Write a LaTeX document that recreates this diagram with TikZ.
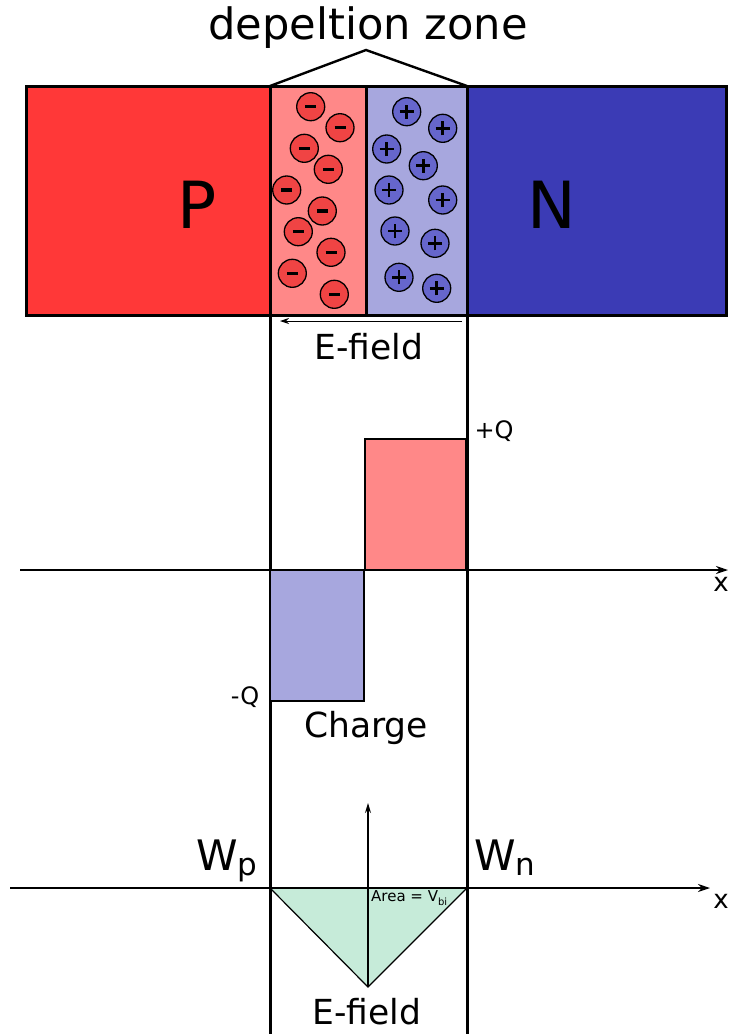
\documentclass[tikz,border=0pt]{standalone}
\usepackage{fontspec}
\setmainfont{DejaVu Sans}
\usetikzlibrary{arrows.meta}
\definecolor{pred}{HTML}{FF3838}
\definecolor{nblue}{HTML}{3B3BB5}
\definecolor{lred}{HTML}{FF8888}
\definecolor{lblue}{HTML}{A7A7DE}
\definecolor{ionred}{HTML}{F04444}
\definecolor{ionblue}{HTML}{6666CC}
\definecolor{mint}{HTML}{C6EBD9}
\tikzset{
  block/.style={draw=black, line width=3pt, anchor=north west, inner sep=0pt, outer sep=0pt},
  mion/.style={circle, draw=black, line width=1.3pt, fill=ionred, minimum size=28pt, inner sep=0pt,
    path picture={\draw[line width=3.2pt] ([xshift=-5.5pt]path picture bounding box.center) -- ([xshift=5.5pt]path picture bounding box.center);}},
  pion/.style={circle, draw=black, line width=1.3pt, fill=ionblue, minimum size=28pt, inner sep=0pt,
    path picture={\draw[line width=2.6pt] ([xshift=-7pt]path picture bounding box.center) -- ([xshift=7pt]path picture bounding box.center);
                  \draw[line width=2.6pt] ([yshift=-7pt]path picture bounding box.center) -- ([yshift=7pt]path picture bounding box.center);}},
  lbl/.style={inner sep=0pt, font=\fontsize{34.5}{40}\selectfont},
  qrect/.style={draw=black, line width=1.4pt, anchor=north west, inner sep=0pt, outer sep=0pt},
  axis/.style={line width=1.2pt, -{Stealth[length=12pt,width=8pt]}},
  vline/.style={line width=3pt},
}
\begin{document}
\begin{tikzpicture}[x=1pt,y=-1pt]
\useasboundingbox (0,0) rectangle (729,1034);
% blocks
\node[block, fill=pred, minimum width=244pt, minimum height=229pt] (P) at (26,86) {};
\node[block, fill=lred, minimum width=96pt, minimum height=229pt] (DL) at (270,86) {};
\node[block, fill=lblue, minimum width=101pt, minimum height=229pt] (DR) at (366,86) {};
\node[block, fill=nblue, minimum width=259pt, minimum height=229pt] (N) at (467,86) {};
\node[inner sep=0pt, font=\fontsize{65}{70}\selectfont] (Pl) at (197,205) {P};
\node[inner sep=0pt, font=\fontsize{65}{70}\selectfont] (Nl) at (552,205) {N};
% bracket and title
\coordinate (apex) at (366,50);
\draw[line width=2.4pt] (DL.north west) -- (apex) -- (DR.north east);
\node[inner sep=0pt, font=\fontsize{43.2}{48}\selectfont] (title) at (368,28) {depeltion zone};
% ions
\foreach \n/\x/\y in {1/310.7/106.7, 2/340/127.7, 3/304.3/148.3, 4/328.3/169.3, 5/286.7/190,
                      6/322.3/211, 7/298.3/231.7, 8/331/252.3, 9/292.3/273.3, 10/334.3/294.3}
  \node[mion] (m\n) at (\x,\y) {};
\foreach \n/\x/\y in {1/406.7/111.7, 2/442.7/128.3, 3/386.7/149, 4/423.3/165.7, 5/389/190,
                      6/442.7/200, 7/395/231, 8/435/243.3, 9/399/277.3, 10/436.7/288.3}
  \node[pion] (p\n) at (\x,\y) {};
% vertical lines
\coordinate (vlb) at (270,1034);
\coordinate (vrb) at (467,1034);
\draw[vline] (DL.south west) -- (vlb);
\draw[vline] (DR.south east) -- (vrb);
% E-field arrow
\coordinate (ef1) at (462,321);
\coordinate (ef2) at (280,321);
\draw[line width=1pt, -{Stealth[length=9pt,width=6pt]}] (ef1) -- (ef2);
\node[lbl] (eftop) at (369,347) {E-field};
% charge plot
\node[qrect, fill=lred, minimum width=101pt, minimum height=131pt] (qp) at (365,439) {};
\node[qrect, fill=lblue, minimum width=94pt, minimum height=131pt] (qn) at (270,570) {};
\coordinate (a1s) at (20,570);
\coordinate (a1e) at (728,570);
\draw[axis] (a1s) -- (a1e);
\node[inner sep=0pt, font=\fontsize{26}{30}\selectfont] (x1) at (721,584) {x};
\node[inner sep=0pt, font=\fontsize{24}{28}\selectfont] (plq) at (494,431) {+Q};
\node[inner sep=0pt, font=\fontsize{24}{28}\selectfont] (miq) at (245,697) {-Q};
\node[lbl] (chg) at (366,728) {Charge};
% E-field plot
\coordinate (t1) at (270,888);
\coordinate (t2) at (467,888);
\coordinate (t3) at (368,987);
\draw[line width=1.2pt, fill=mint] (t1) -- (t2) -- (t3) -- cycle;
\coordinate (a2s) at (10,888);
\coordinate (a2e) at (710,888);
\draw[axis] (a2s) -- (a2e);
\node[inner sep=0pt, font=\fontsize{26}{30}\selectfont] (x2) at (721,901) {x};
\coordinate (va) at (368,803);
\draw[line width=1.2pt, -{Stealth[length=10pt,width=6pt]}] (t3) -- (va);
\node[inner sep=0pt, font=\fontsize{15}{18}\selectfont, anchor=west] (area) at (371,898) {Area = V\raisebox{-0.25em}{\fontsize{10}{12}\selectfont bi}};
\node[inner sep=0pt, font=\fontsize{42}{46}\selectfont, anchor=base west] (wp) at (196,870) {W\raisebox{-0.12em}{\fontsize{31}{34}\selectfont p}};
\node[inner sep=0pt, font=\fontsize{42}{46}\selectfont, anchor=base west] (wn) at (474,870) {W\raisebox{-0.12em}{\fontsize{31}{34}\selectfont n}};
\node[lbl] (efbot) at (367,1012) {E-field};
\end{tikzpicture}
\end{document}
